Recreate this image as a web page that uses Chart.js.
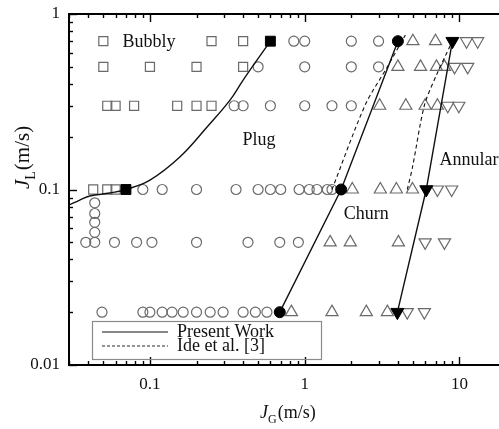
<!DOCTYPE html>
<html>
<head>
<meta charset="utf-8">
<script src="https://cdn.jsdelivr.net/npm/chart.js@4.4.0/dist/chart.umd.min.js"></script>
<style>
  body { margin: 0; background: #fff; }
  canvas { display: block; }
</style>
</head>
<body>
<canvas id="flowMap" width="499" height="429"></canvas>
<script>
// Flow regime map, points are [JG, JL] in m/s

// Observed regimes (open markers)
const bubbly = [
    [0.05, 0.7], [0.25, 0.7], [0.4, 0.7],
    [0.05, 0.5], [0.1, 0.5], [0.2, 0.5], [0.4, 0.5],
    [0.053, 0.3], [0.06, 0.3], [0.079, 0.3], [0.15, 0.3], [0.2, 0.3], [0.25, 0.3],
    [0.043, 0.1], [0.053, 0.1], [0.06, 0.1]
];
const plug = [
    [0.85, 0.7], [1.0, 0.7], [2.0, 0.7], [3.0, 0.7],
    [0.5, 0.5], [1.0, 0.5], [2.0, 0.5], [3.0, 0.5],
    [0.35, 0.3], [0.4, 0.3], [0.6, 0.3], [1.0, 0.3], [1.5, 0.3], [2.0, 0.3],
    [0.09, 0.1], [0.12, 0.1], [0.2, 0.1], [0.36, 0.1], [0.5, 0.1], [0.6, 0.1], [0.7, 0.1],
    [0.92, 0.1], [1.07, 0.1], [1.2, 0.1], [1.4, 0.1], [1.5, 0.1],
    [0.044, 0.084], [0.044, 0.073], [0.044, 0.065], [0.044, 0.057],
    [0.0385, 0.05], [0.044, 0.05], [0.059, 0.05], [0.082, 0.05], [0.103, 0.05], [0.2, 0.05],
    [0.43, 0.05], [0.69, 0.05], [0.91, 0.05],
    [0.049, 0.02], [0.09, 0.02], [0.1, 0.02], [0.12, 0.02], [0.139, 0.02], [0.164, 0.02],
    [0.2, 0.02], [0.245, 0.02], [0.297, 0.02], [0.4, 0.02], [0.48, 0.02], [0.57, 0.02]
];
const churn = [
    [5.0, 0.7], [7.0, 0.7],
    [4.0, 0.5], [5.6, 0.5], [7.1, 0.5], [8.0, 0.5],
    [3.05, 0.3], [4.5, 0.3], [6.0, 0.3], [7.2, 0.3],
    [2.03, 0.1], [3.08, 0.1], [3.91, 0.1], [4.97, 0.1],
    [1.46, 0.05], [1.97, 0.05], [4.03, 0.05],
    [0.82, 0.02], [1.5, 0.02], [2.5, 0.02], [3.42, 0.02]
];
const annular = [
    [11.1, 0.7], [13.1, 0.7],
    [9.3, 0.5], [11.3, 0.5],
    [8.4, 0.3], [9.9, 0.3],
    [7.2, 0.1], [8.9, 0.1],
    [6.0, 0.05], [8.0, 0.05],
    [4.6, 0.02], [5.93, 0.02]
];

// Transition points (filled markers)
const bubblyPlugTrans = [[0.07, 0.1], [0.6, 0.7]];
const plugChurnTrans = [[0.69, 0.02], [1.72, 0.1], [4.0, 0.7]];
const churnAnnularTrans = [[3.97, 0.02], [6.1, 0.1], [9.0, 0.7]];

// Boundaries, present work (solid)
const bubblyPlugLine = [
    [0.03, 0.0816], [0.0352, 0.0871], [0.0409, 0.0918], [0.0551, 0.0955], [0.07, 0.1],
    [0.1, 0.113], [0.156, 0.153], [0.234, 0.227], [0.33, 0.324], [0.40, 0.42], [0.6, 0.7]
];
// Boundaries, Ide et al. (dashed)
const ideChurnLine = [[1.5, 0.1], [2.46, 0.303], [3.42, 0.5], [4.47, 0.76]];
const ideAnnularLine = [[4.6, 0.1], [4.97, 0.134], [5.94, 0.303], [7.1, 0.449], [8.88, 0.684]];

// Axis tick labels
const xTickLabels = [0.1, 1, 10];
const yTickLabels = [0.01, 0.1, 1];

const serif = '"Liberation Serif", "DejaVu Serif", serif';
const openGrey = '#6a6a6a';

const toXY = (pts) => pts.map(p => ({ x: p[0], y: p[1] }));

const isDecade = (v) => Math.abs(Math.log10(v) - Math.round(Math.log10(v))) < 1e-6;

// 1..9 x 10^n between min and max
const logTicks = (min, max) => {
    const out = [];
    for (let e = Math.floor(Math.log10(min)); e <= Math.ceil(Math.log10(max)); e++) {
        for (let m = 1; m < 10; m++) {
            const v = +(m * Math.pow(10, e)).toPrecision(3);
            if (v >= min - 1e-9 && v <= max + 1e-9) out.push(v);
        }
    }
    return out;
};

const openSet = (data, style, rotation, radius) => ({
    data: toXY(data),
    pointStyle: style,
    rotation: rotation,
    pointRadius: radius,
    borderColor: openGrey,
    backgroundColor: 'rgba(0,0,0,0)',
    borderWidth: 1.2,
    showLine: false,
    order: 3
});

const filledSet = (data, style, rotation, radius) => ({
    data: toXY(data),
    pointStyle: style,
    rotation: rotation,
    pointRadius: radius,
    borderColor: '#000',
    backgroundColor: '#000',
    borderWidth: 1,
    showLine: false,
    order: 1
});

const lineSet = (data, dash, tension) => ({
    data: toXY(data),
    showLine: true,
    pointRadius: 0,
    borderColor: '#111',
    borderWidth: dash ? 1.1 : 1.4,
    borderDash: dash || [],
    tension: tension,
    fill: false,
    order: 2
});

// Inward tick marks and top frame
const frame = {
    id: 'frame',
    afterDraw(chart) {
        const { ctx, chartArea: a, scales: { x, y } } = chart;
        ctx.save();
        ctx.strokeStyle = '#000';
        ctx.lineWidth = 1.4;
        x.ticks.forEach(t => {
            const px = Math.round(x.getPixelForValue(t.value)) + 0.5;
            const len = isDecade(t.value) ? 8 : 4;
            ctx.beginPath();
            ctx.moveTo(px, a.bottom);
            ctx.lineTo(px, a.bottom - len);
            ctx.moveTo(px, a.top);
            ctx.lineTo(px, a.top + len);
            ctx.stroke();
        });
        y.ticks.forEach(t => {
            const py = Math.round(y.getPixelForValue(t.value)) + 0.5;
            const len = isDecade(t.value) ? 8 : 4;
            ctx.beginPath();
            ctx.moveTo(a.left, py);
            ctx.lineTo(a.left + len, py);
            ctx.stroke();
        });
        ctx.lineWidth = 2;
        ctx.beginPath();
        ctx.moveTo(a.left, a.top);
        ctx.lineTo(a.right, a.top);
        ctx.stroke();
        ctx.restore();
    }
};

// Regime names, legend and axis titles
const annotations = {
    id: 'annotations',
    afterDraw(chart) {
        const { ctx, chartArea: a, scales: { x, y } } = chart;
        ctx.save();
        ctx.fillStyle = '#111';
        ctx.font = '18px ' + serif;
        ctx.textBaseline = 'middle';
        ctx.textAlign = 'center';
        ctx.fillText('Bubbly', x.getPixelForValue(0.0986), y.getPixelForValue(0.69));
        ctx.fillText('Plug', x.getPixelForValue(0.507), y.getPixelForValue(0.191));
        ctx.fillText('Churn', x.getPixelForValue(2.5), y.getPixelForValue(0.0725));
        ctx.textAlign = 'left';
        ctx.fillText('Annular', x.getPixelForValue(7.42), y.getPixelForValue(0.147));

        // legend box
        const bx = a.left + 23, by = a.bottom - 44;
        ctx.strokeStyle = '#8a8a8a';
        ctx.lineWidth = 1.2;
        ctx.strokeRect(bx + 0.5, by + 0.5, 229, 38);
        ctx.strokeStyle = '#111';
        ctx.lineWidth = 1.1;
        ctx.beginPath();
        ctx.moveTo(bx + 10, by + 11);
        ctx.lineTo(bx + 76, by + 11);
        ctx.stroke();
        ctx.setLineDash([3, 2]);
        ctx.lineWidth = 0.9;
        ctx.beginPath();
        ctx.moveTo(bx + 10, by + 25);
        ctx.lineTo(bx + 76, by + 25);
        ctx.stroke();
        ctx.setLineDash([]);
        ctx.fillText('Present Work', bx + 85, by + 11);
        ctx.fillText('Ide et al. [3]', bx + 85, by + 25);

        // axis titles with subscripts
        const title = (sub, size) => {
            ctx.textBaseline = 'alphabetic';
            ctx.textAlign = 'left';
            ctx.font = 'italic ' + size + 'px ' + serif;
            ctx.fillText('J', 0, 0);
            let w = ctx.measureText('J').width;
            ctx.font = Math.round(size * 0.65) + 'px ' + serif;
            ctx.fillText(sub, w, size * 0.28);
            w += ctx.measureText(sub).width + 1;
            ctx.font = size + 'px ' + serif;
            ctx.fillText('(m/s)', w, 0);
        };
        ctx.save();
        ctx.translate(260, 418);
        title('G', 18);
        ctx.restore();
        ctx.save();
        ctx.translate(29, 189);
        ctx.rotate(-Math.PI / 2);
        title('L', 21);
        ctx.restore();
        ctx.restore();
    }
};

new Chart(document.getElementById('flowMap'), {
    type: 'scatter',
    data: {
        datasets: [
            openSet(bubbly, 'rect', 0, 6.4),
            openSet(plug, 'circle', 0, 5),
            openSet(churn, 'triangle', 0, 7),
            openSet(annular, 'triangle', 180, 7),
            lineSet(bubblyPlugLine, null, 0.4),
            lineSet(plugChurnTrans, null, 0),
            lineSet(churnAnnularTrans, null, 0),
            lineSet(ideChurnLine, [4, 3], 0.3),
            lineSet(ideAnnularLine, [4, 3], 0.3),
            filledSet(bubblyPlugTrans, 'rect', 0, 7),
            filledSet(plugChurnTrans, 'circle', 0, 5.5),
            filledSet(churnAnnularTrans, 'triangle', 180, 7.5)
        ]
    },
    options: {
        responsive: false,
        animation: false,
        devicePixelRatio: 1,
        layout: { autoPadding: false, padding: { top: 14, right: 0, left: 0, bottom: 0 } },
        plugins: {
            legend: { display: false },
            tooltip: { enabled: false }
        },
        scales: {
            x: {
                type: 'logarithmic',
                min: 0.03,
                max: 18,
                afterFit: (s) => { s.height = 64; s.paddingLeft = 0; s.paddingRight = 0; },
                afterBuildTicks: (s) => { s.ticks = logTicks(s.min, s.max).map(v => ({ value: v })); },
                grid: { display: false, drawTicks: false },
                border: { display: true, color: '#000', width: 2 },
                ticks: {
                    autoSkip: false,
                    maxRotation: 0,
                    padding: 9,
                    color: '#111',
                    font: { family: serif, size: 17 },
                    callback: (v) => xTickLabels.includes(v) ? String(v) : ''
                }
            },
            y: {
                type: 'logarithmic',
                min: 0.01,
                max: 1,
                afterFit: (s) => { s.width = 69; s.paddingTop = 0; s.paddingBottom = 0; },
                afterBuildTicks: (s) => { s.ticks = logTicks(s.min, s.max).map(v => ({ value: v })); },
                grid: { display: false, drawTicks: false },
                border: { display: true, color: '#000', width: 2 },
                ticks: {
                    autoSkip: false,
                    padding: 9,
                    color: '#111',
                    font: { family: serif, size: 17 },
                    callback: (v) => yTickLabels.includes(v) ? String(v) : ''
                }
            }
        }
    },
    plugins: [frame, annotations]
});
</script>
</body>
</html>
